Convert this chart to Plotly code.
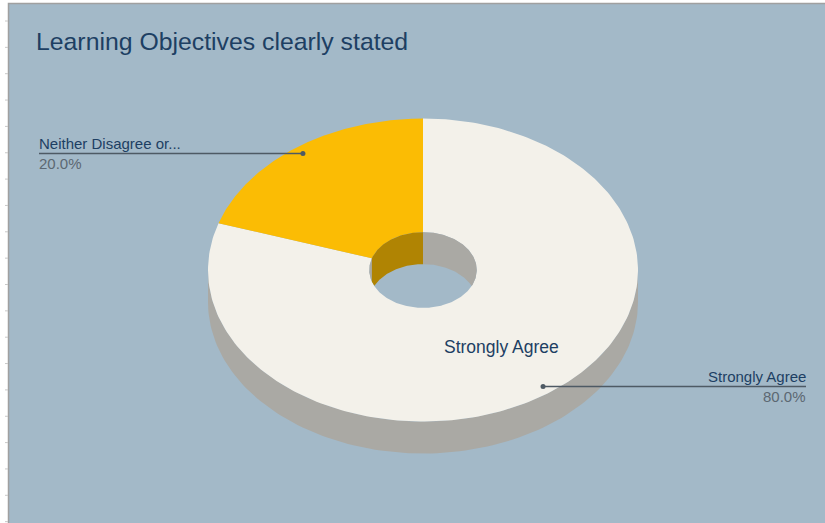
import numpy as np
import plotly.graph_objects as go

# ---------------- data ----------------
title_text = "Learning Objectives clearly stated"
labels = ["Strongly Agree", "Neither Disagree or..."]
values = [80, 20]
slice_colors = ["#F3F1EA", "#FBBC04"]

# ---------------- layout constants ----------------
W, H = 825, 523
BG = "#A3B9C8"
CX, CY = 423, 270          # centre of top face (pixels)
RX, RY = 215, 151.5        # outer radii of top face
HOLE = 0.25                # pie hole fraction
DEPTH = 32                 # 3D thickness
LABEL_COLOR = "#1D3F63"
PCT_COLOR = "#5C6872"
LEADER_COLOR = "#4E5A64"
FONT = "Liberation Sans, Arial, sans-serif"


def darker(hexcol, f=0.7):
    h = hexcol.lstrip("#")
    r, g, b = (int(h[i:i + 2], 16) for i in (0, 2, 4))
    return "rgb(%d,%d,%d)" % (round(r * f), round(g * f), round(b * f))


def pt(t_deg, r=1.0, dy=0.0):
    t = np.radians(t_deg)
    return CX + r * RX * np.cos(t), CY - r * RY * np.sin(t) + dy


def interval_intersect(a0, a1, b0, b1):
    lo, hi = max(a0, b0), min(a1, b1)
    return (lo, hi) if hi > lo else None


total = float(sum(values))
fracs = [v / total for v in values]
cum = np.concatenate([[0.0], np.cumsum(fracs)])
# slice i spans math angles from ta (start) down to tb (end), clockwise from 12 o'clock
spans = [(90 - 360 * cum[i + 1], 90 - 360 * cum[i]) for i in range(len(values))]

fig = go.Figure()


def poly(xs, ys, color):
    fig.add_trace(go.Scatter(x=list(xs) + [xs[0]], y=list(ys) + [ys[0]], mode="lines",
                             fill="toself", fillcolor=color, line=dict(width=0, color=color),
                             hoverinfo="skip", showlegend=False))


# ---- outer side walls (front half only) ----
for (tb, ta), col in zip(spans, slice_colors):
    for lo, hi in [(-180, 0)]:
        seg = interval_intersect(tb, ta, lo, hi)
        if seg is None:
            continue
        ts = np.linspace(seg[0], seg[1], 120)
        xt, yt = pt(ts)
        xb, yb = pt(ts[::-1], dy=DEPTH)
        poly(np.concatenate([xt, xb]), np.concatenate([yt, yb]), darker(col))

# ---- top faces (annular sectors) ----
for (tb, ta), col in zip(spans, slice_colors):
    ts = np.linspace(ta, tb, 240)
    xo, yo = pt(ts)
    xi, yi = pt(ts[::-1], r=HOLE)
    poly(np.concatenate([xo, xi]), np.concatenate([yo, yi]), col)

# ---- inner back wall of the hole ----
for (tb, ta), col in zip(spans, slice_colors):
    for lo, hi, shift in [(0, 180, 0), (-360, -180, 360)]:
        seg = interval_intersect(tb, ta, lo, hi)
        if seg is None:
            continue
        ts = np.linspace(seg[0], seg[1], 80)
        xu, yu = pt(ts, r=HOLE)
        s = np.sin(np.radians(ts))
        ylow = CY + np.minimum(-HOLE * RY * s + DEPTH, HOLE * RY * s)
        poly(np.concatenate([xu, xu[::-1]]), np.concatenate([yu, ylow[::-1]]), darker(col))

# ---- labels ----
annotations = []
for i, (lab, f) in enumerate(zip(labels, fracs)):
    tb, ta = spans[i]
    tm = (ta + tb) / 2
    # inside label
    if f >= 0.5:
        lx, ly = pt(tm, r=(1 + HOLE) / 2)
        annotations.append(dict(x=lx, y=ly, text=lab, showarrow=False, xanchor="center",
                                yanchor="middle", font=dict(family=FONT, size=17.5, color=LABEL_COLOR)))
    # leader line + outside label
    dx, dy = pt(tm, r=0.95)
    if dx < CX:
        ex, anchor, xs = 39, "left", -2
    else:
        ex, anchor, xs = 806, "right", 2
    fig.add_trace(go.Scatter(x=[dx, ex], y=[dy, dy], mode="lines",
                             line=dict(color=LEADER_COLOR, width=1.5),
                             hoverinfo="skip", showlegend=False))
    fig.add_trace(go.Scatter(x=[dx], y=[dy], mode="markers",
                             marker=dict(color=LEADER_COLOR, size=5),
                             hoverinfo="skip", showlegend=False))
    annotations.append(dict(x=ex, y=dy - 10, text=lab, showarrow=False, xanchor=anchor,
                            yanchor="middle", xshift=xs,
                            font=dict(family=FONT, size=15, color=LABEL_COLOR)))
    annotations.append(dict(x=ex, y=dy + 10, text="%.1f%%" % (100 * f), showarrow=False,
                            xanchor=anchor, yanchor="middle", xshift=xs,
                            font=dict(family=FONT, size=15, color=PCT_COLOR)))

annotations.append(dict(x=35, y=41.5, text=title_text, showarrow=False, xanchor="left",
                        yanchor="middle", xshift=-1,
                        font=dict(family=FONT, size=24.8, color=LABEL_COLOR)))

# ---- background / frame ----
shapes = [dict(type="rect", xref="x", yref="y", x0=8.5, x1=W + 2, y0=3.5, y1=H + 2,
               fillcolor=BG, line=dict(color="#A0A0A0", width=1.5), layer="below")]
for k in range(20):
    yy = 21 + 26.35 * k
    if yy < H:
        shapes.append(dict(type="line", xref="x", yref="y", x0=5, x1=8, y0=yy, y1=yy,
                           line=dict(color="#C8C8C8", width=1), layer="below"))

fig.update_layout(
    width=W, height=H, autosize=False,
    margin=dict(l=0, r=0, t=0, b=0, pad=0),
    paper_bgcolor="white", plot_bgcolor="white",
    xaxis=dict(range=[0, W], visible=False, fixedrange=True),
    yaxis=dict(range=[H, 0], visible=False, fixedrange=True),
    shapes=shapes, annotations=annotations, showlegend=False,
)

fig.write_html("out.html")
